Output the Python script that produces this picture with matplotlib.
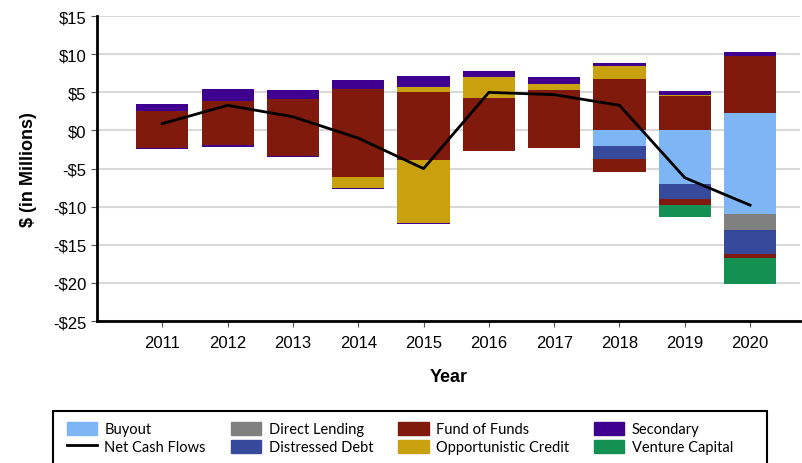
import numpy as np
import matplotlib
matplotlib.use('Agg')
import matplotlib.pyplot as plt
from matplotlib.lines import Line2D
from matplotlib.patches import Rectangle

plt.rcParams['font.family'] = ['Liberation Sans', 'DejaVu Sans']

# Dữ liệu (triệu $)
years = [2011, 2012, 2013, 2014, 2015, 2016, 2017, 2018, 2019, 2020]
strategies = ['Buyout', 'Direct Lending', 'Distressed Debt', 'Fund of Funds',
              'Opportunistic Credit', 'Secondary', 'Venture Capital']
colors = ['#7EB6F5', '#808080', '#36499B', '#7F1A0C', '#C9A10E', '#3F0090', '#149052']

# Phần dương
pos_buyout = [0, 0, 0, 0, 0, 0, 0, 0, 0, 2.3]
pos_direct = [0, 0, 0, 0, 0, 0, 0, 0, 0, 0]
pos_distressed = [0, 0, 0, 0, 0, 0, 0, 0, 0, 0]
pos_fof = [2.5, 3.9, 4.1, 5.45, 5.1, 4.3, 5.3, 6.7, 4.5, 7.45]
pos_opp = [0, 0, 0, 0, 0.6, 2.7, 0.85, 1.75, 0.1, 0]
pos_secondary = [1.0, 1.6, 1.15, 1.15, 1.5, 0.8, 0.85, 0.35, 0.55, 0.55]
pos_venture = [0, 0, 0, 0, 0, 0, 0, 0, 0, 0]

# Phần âm
neg_buyout = [0, 0, 0, 0, 0, 0, 0, -2.1, -7.0, -10.9]
neg_direct = [0, 0, 0, 0, 0, 0, 0, 0, 0, -2.2]
neg_distressed = [0, 0, 0, 0, 0, 0, 0, -1.6, -1.95, -3.15]
neg_fof = [-2.3, -1.95, -3.3, -6.05, -3.9, -2.7, -2.25, -1.7, -0.8, -0.45]
neg_opp = [0, 0, 0, -1.45, -8.2, 0, 0, 0, 0, 0]
neg_secondary = [-0.15, -0.25, -0.15, -0.15, -0.15, 0, 0, 0, 0, 0]
neg_venture = [0, 0, 0, 0, 0, 0, 0, 0, -1.55, -3.5]

net_cash = [0.9, 3.3, 1.8, -1.0, -5.0, 5.0, 4.7, 3.3, -6.2, -9.8]

pos = [pos_buyout, pos_direct, pos_distressed, pos_fof, pos_opp, pos_secondary, pos_venture]
neg = [neg_buyout, neg_direct, neg_distressed, neg_fof, neg_opp, neg_secondary, neg_venture]

W, H = 802, 464
fig = plt.figure(figsize=(W / 100, H / 100), dpi=100)
ax = fig.add_axes([0.121, 0.306, 0.877, 0.657])

x = np.array(years)
bottom_p = np.zeros(len(years))
bottom_n = np.zeros(len(years))
for name, c, p, n in zip(strategies, colors, pos, neg):
    p = np.array(p)
    n = np.array(n)
    ax.bar(x, p, 0.8, bottom=bottom_p, color=c, zorder=2)
    ax.bar(x, n, 0.8, bottom=bottom_n, color=c, zorder=2)
    bottom_p += p
    bottom_n += n

ax.plot(x, net_cash, color='black', linewidth=2, zorder=3)

ax.set_xlim(2010, 2020.77)
ax.set_ylim(-25, 15)
ax.set_yticks(range(-25, 16, 5))
ax.set_yticklabels([('-$%d' % abs(v)) if v < 0 else '$%d' % v for v in range(-25, 16, 5)])
ax.set_xticks(years)
ax.tick_params(labelsize=12, length=4, color='#555555')
ax.tick_params(axis='x', pad=6)
ax.yaxis.grid(True, color='#d9d9d9', linewidth=1.5, zorder=0)
ax.set_axisbelow(True)
for s in ['top', 'right']:
    ax.spines[s].set_visible(False)
for s in ['left', 'bottom']:
    ax.spines[s].set_linewidth(2)
ax.set_ylabel('$ (in Millions)', fontsize=13, fontweight='bold', labelpad=12)
ax.set_xlabel('Year', fontsize=13, fontweight='bold', labelpad=13)

# Chú thích
handles = {s: plt.Rectangle((0, 0), 1, 1, color=c) for s, c in zip(strategies, colors)}
handles['Net Cash Flows'] = Line2D([0], [0], color='black', linewidth=2)
order = ['Buyout', 'Net Cash Flows', 'Direct Lending', 'Distressed Debt',
         'Fund of Funds', 'Opportunistic Credit', 'Secondary', 'Venture Capital']
leg = fig.legend([handles[k] for k in order], order, ncol=4, loc='upper left',
                 bbox_to_anchor=(60 / W, 1 - 416 / H), frameon=False,
                 handlelength=2.1, handleheight=1.0, handletextpad=0.5,
                 columnspacing=1.7, borderaxespad=0, borderpad=0.45,
                 labelspacing=0.25, prop={'family': 'Lato', 'size': 10.5})

# Khung chú thích
fig.add_artist(Rectangle((53 / W, -0.01), (767 - 53) / W, 1 - 412 / H + 0.01,
                         transform=fig.transFigure, fill=False,
                         edgecolor='black', linewidth=1.5))

fig.savefig('out.png', dpi=100)
